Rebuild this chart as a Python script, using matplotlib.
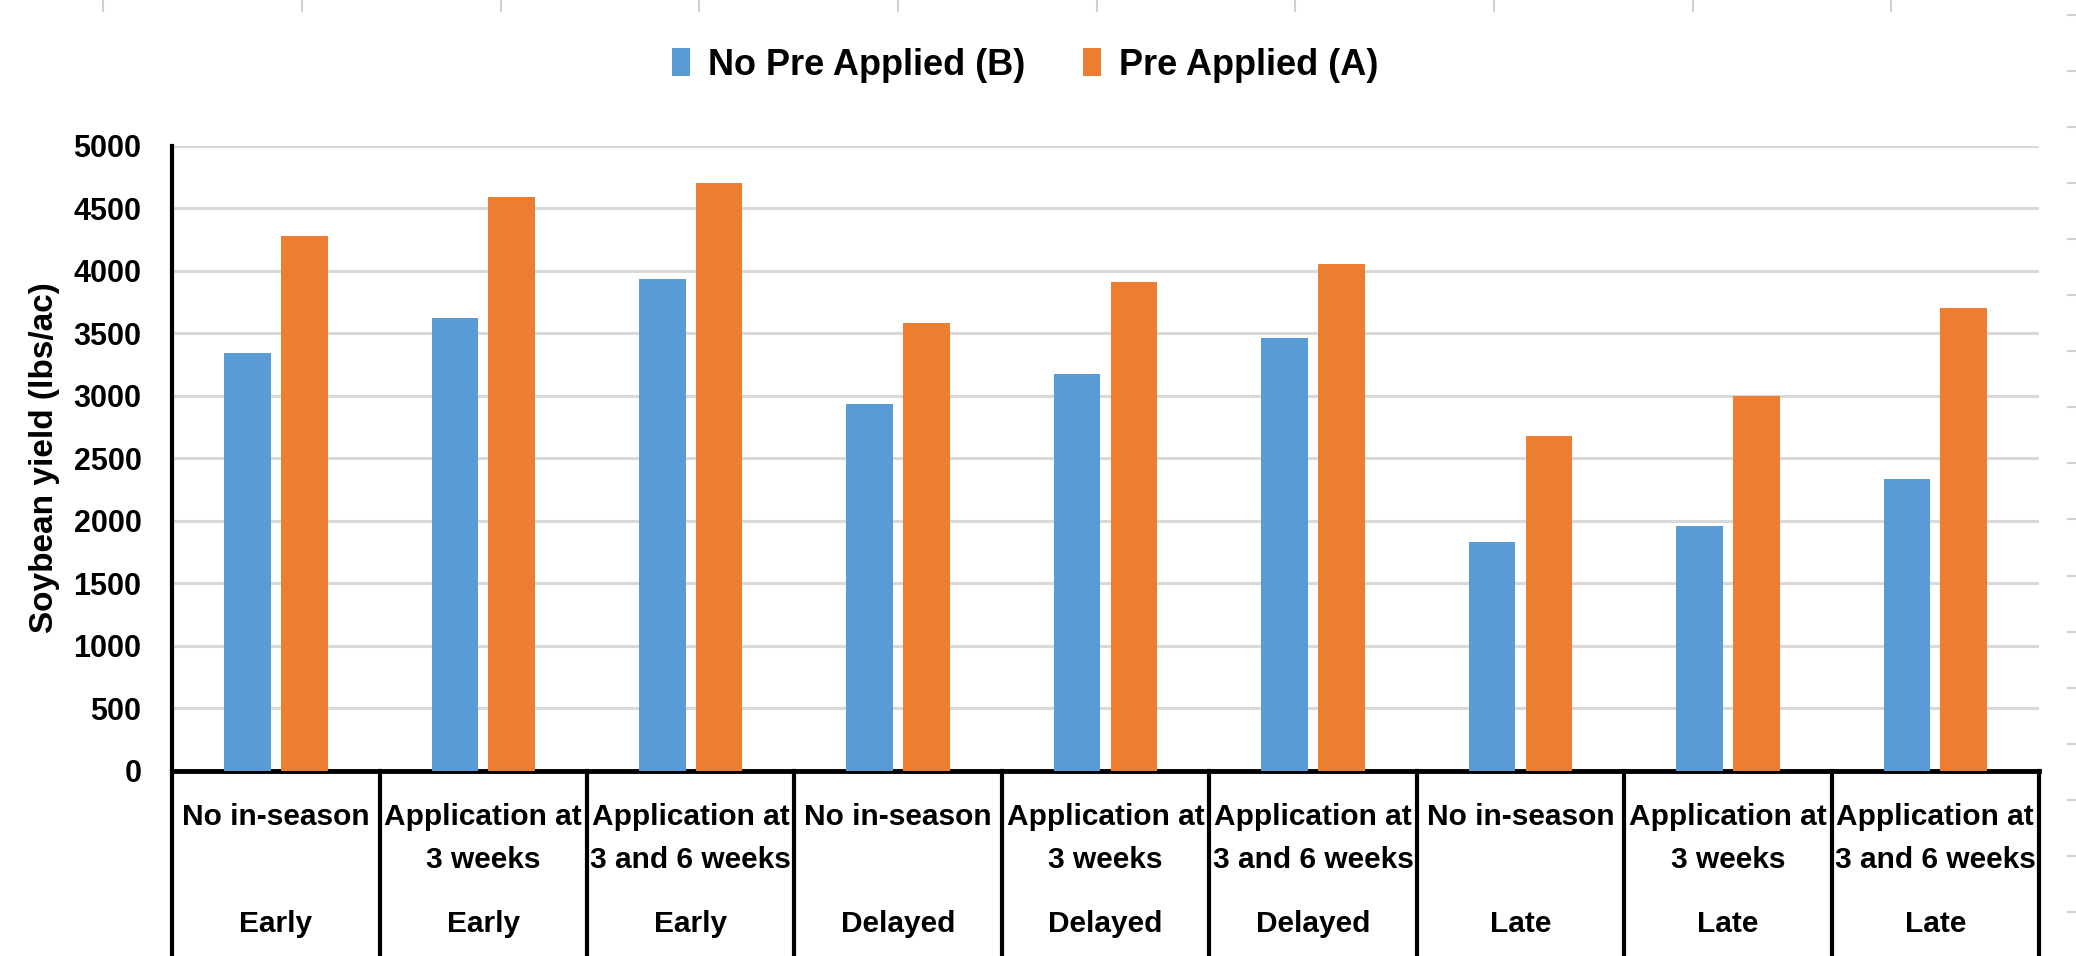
import numpy as np
import matplotlib
matplotlib.use("Agg")
import matplotlib.pyplot as plt
from matplotlib.lines import Line2D

plt.rcParams['font.family'] = ['Liberation Sans', 'DejaVu Sans']
plt.rcParams['font.weight'] = 'bold'

# data
treatments = ['No in-season', 'Application at\n3 weeks', 'Application at\n3 and 6 weeks'] * 3
timings = ['Early'] * 3 + ['Delayed'] * 3 + ['Late'] * 3
no_pre = [3340, 3620, 3930, 2935, 3170, 3460, 1830, 1960, 2330]
pre = [4280, 4590, 4700, 3580, 3910, 4055, 2680, 3000, 3705]

blue = '#5B9BD5'
orange = '#ED7D31'

fig = plt.figure(figsize=(20.76, 9.56), dpi=100)
ax = fig.add_axes([0.0829, 0.194, 0.8993, 0.6536])

x = np.arange(len(no_pre))
w = 0.225
ax.bar(x - 0.137, no_pre, w, color=blue, label='No Pre Applied (B)', zorder=3)
ax.bar(x + 0.137, pre, w, color=orange, label='Pre Applied (A)', zorder=3)

ax.set_xlim(-0.5, len(x) - 0.5)
ax.set_ylim(0, 5000)
ax.set_yticks(np.arange(0, 5001, 500))
ax.yaxis.grid(True, color='#d9d9d9', linewidth=2.2, zorder=0)
ax.set_xticks([])
ax.tick_params(axis='y', length=0, labelsize=22, pad=22)
for lbl in ax.get_yticklabels():
    lbl.set_fontweight('bold')
for s in ['top', 'right']:
    ax.spines[s].set_visible(False)
ax.spines['left'].set_linewidth(3)
ax.spines['bottom'].set_linewidth(3.5)

ax.set_ylabel('Soybean yield (lbs/ac)', fontsize=24, fontweight='bold', labelpad=10)

# category table below the axis
trans = ax.get_xaxis_transform()
bottom = -0.30
for b in np.arange(-0.5, len(x), 1.0):
    ax.add_line(Line2D([b, b], [0, bottom], transform=trans, color='black',
                       linewidth=3, clip_on=False))
for i in x:
    parts = treatments[i].split('\n')
    ax.text(i, -0.075, parts[0], transform=trans, ha='center', va='center',
            fontsize=21.5, fontweight='bold')
    if len(parts) > 1:
        ax.text(i, -0.143, parts[1], transform=trans, ha='center', va='center',
                fontsize=21.5, fontweight='bold')
    ax.text(i, -0.245, timings[i], transform=trans, ha='center', va='center',
            fontsize=21.5, fontweight='bold')

leg = fig.legend(loc='center', bbox_to_anchor=(0.494, 0.932), ncol=2, frameon=False,
                 fontsize=26, handlelength=0.5, handleheight=0.85, handletextpad=0.5,
                 columnspacing=1.6)
for t in leg.get_texts():
    t.set_fontweight('bold')

# faint spreadsheet grid remnants at the edges
for xv in np.arange(0.0497, 0.95, 0.0957):
    fig.add_artist(Line2D([xv, xv], [0.989, 1.0], color='#d0d0d0', linewidth=1.5))
for yv in np.arange(0.984, 0.0, -0.0586):
    fig.add_artist(Line2D([0.996, 1.0], [yv, yv], color='#d0d0d0', linewidth=1.5))

fig.savefig('out.png', dpi=100)
